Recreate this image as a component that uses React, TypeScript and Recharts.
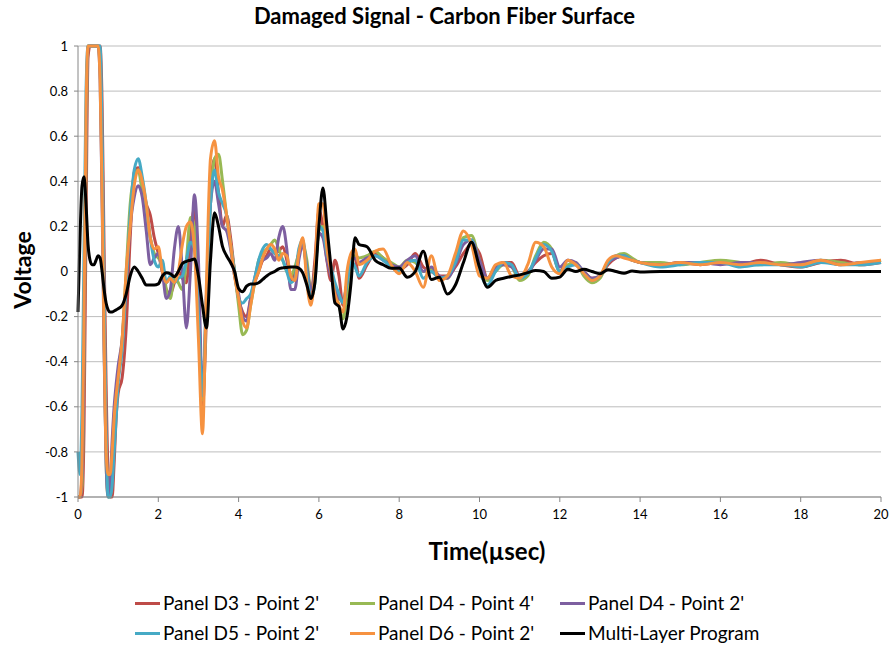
import { LineChart, Line, XAxis, YAxis, CartesianGrid } from 'recharts'

// sample times (µs): fine around the first burst, coarser in the tail
const time = [
  0, 0.05, 0.1, 0.15, 0.2, 0.25, 0.3, 0.35, 0.4, 0.45, 0.5, 0.55, 0.6, 0.65, 0.7, 0.75, 0.8, 0.85, 0.9, 0.95, 1.0,
  1.1, 1.2, 1.3, 1.4, 1.5, 1.6, 1.7, 1.8, 1.9, 2.0,
  2.1, 2.2, 2.3, 2.4, 2.5, 2.6, 2.7, 2.8, 2.9, 3.0,
  3.1, 3.2, 3.3, 3.4, 3.5, 3.6, 3.7, 3.8, 3.9, 4.0,
  4.1, 4.2, 4.3, 4.4, 4.5, 4.6, 4.7, 4.8, 4.9, 5.0,
  5.1, 5.2, 5.3, 5.4, 5.5, 5.6, 5.7, 5.8, 5.9, 6.0,
  6.1, 6.2, 6.3, 6.4, 6.5, 6.6, 6.7, 6.8, 6.9, 7.0,
  7.2, 7.4, 7.6, 7.8, 8.0, 8.2, 8.4, 8.6, 8.8, 9.0, 9.2, 9.4, 9.6, 9.8, 10.0, 10.2, 10.4, 10.6, 10.8, 11.0,
  11.2, 11.4, 11.6, 11.8, 12.0, 12.2, 12.4, 12.6, 12.8, 13.0, 13.2, 13.4, 13.6, 13.8, 14.0,
  14.5, 15, 15.5, 16, 16.5, 17, 17.5, 18, 18.5, 19, 19.5, 20,
]

const panelD3p2 = [
  -1, -1, -1, -0.7, 0.2, 0.95, 1, 1, 1, 1, 1, 1, 0.75, 0.1, -0.5, -0.9, -1, -1, -0.85, -0.65, -0.54,
  -0.47, -0.25, 0.15, 0.44, 0.46, 0.38, 0.3, 0.25, 0.15, 0.08,
  0.0, -0.08, -0.1, -0.05, 0.0, -0.03, -0.05, 0.15, 0.28, -0.1,
  -0.6, -0.2, 0.35, 0.5, 0.35, 0.2, 0.25, 0.15, 0.0, -0.12,
  -0.18, -0.2, -0.12, -0.05, 0.0, 0.05, 0.07, 0.1, 0.08, 0.09,
  0.11, 0.05, -0.04, 0.0, 0.08, 0.12, 0.0, -0.1, 0.05, 0.27,
  0.2, 0.05, -0.04, 0.05, -0.02, -0.15, -0.12, 0.05, 0.06, -0.03,
  0.03, 0.08, 0.06, 0.02, 0.01, 0.03, 0.08, 0.02, 0.0, -0.02, -0.02, 0.02, 0.08, 0.12, 0.08, -0.03, 0.02, 0.04, 0.04, -0.02,
  0.0, 0.04, 0.07, 0.08, 0.0, 0.05, 0.03, 0.0, -0.03, -0.02, 0.03, 0.06, 0.07, 0.05, 0.04,
  0.03, 0.04, 0.03, 0.04, 0.03, 0.05, 0.03, 0.02, 0.04, 0.05, 0.03, 0.04,
]

const panelD4p4 = [
  -1, -1, -0.95, -0.4, 0.5, 1, 1, 1, 1, 1, 1, 0.9, 0.4, -0.3, -0.85, -1, -1, -0.9, -0.7, -0.55, -0.45,
  -0.3, 0.0, 0.3, 0.42, 0.45, 0.35, 0.25, 0.15, 0.08, 0.06,
  0.04, -0.08, -0.12, -0.02, -0.05, -0.08, 0.05, 0.24, 0.2, -0.15,
  -0.57, -0.15, 0.3, 0.5, 0.52, 0.4, 0.25, 0.12, 0.0, -0.15,
  -0.28, -0.26, -0.15, -0.05, 0.05, 0.08, 0.1, 0.12, 0.14, 0.1,
  0.05, 0.0, -0.02, 0.02, 0.08, 0.12, 0.05, -0.08, 0.0, 0.18,
  0.2, 0.08, 0.0, -0.08, -0.15, -0.21, -0.1, 0.05, 0.07, 0.06,
  0.07, 0.09, 0.06, 0.04, 0.02, 0.05, 0.04, 0.0, 0.01, -0.03, -0.03, 0.05, 0.15, 0.16, 0.05, -0.04, 0.0, 0.03, 0.02, -0.04,
  -0.02, 0.07, 0.13, 0.1, 0.0, 0.03, 0.04, -0.02, -0.05, -0.03, 0.04, 0.07, 0.08, 0.06, 0.04,
  0.04, 0.03, 0.04, 0.05, 0.04, 0.03, 0.04, 0.03, 0.05, 0.04, 0.03, 0.05,
]

const panelD4p2 = [
  -1, -1, -0.9, -0.3, 0.6, 1, 1, 1, 1, 1, 1, 0.85, 0.3, -0.35, -0.85, -1, -0.95, -0.75, -0.6, -0.5, -0.42,
  -0.3, -0.05, 0.2, 0.33, 0.38, 0.33, 0.18, 0.03, 0.06, 0.08,
  0.0, -0.12, -0.08, 0.1, 0.2, 0.0, -0.25, 0.0, 0.34, 0.05,
  -0.55, -0.1, 0.3, 0.4, 0.3, 0.2, 0.18, 0.1, -0.02, -0.1,
  -0.2, -0.22, -0.12, -0.03, 0.03, 0.05, 0.06, 0.08, 0.05, 0.15,
  0.2, 0.1, -0.08, -0.08, 0.05, 0.12, 0.02, -0.08, 0.0, 0.17,
  0.15, 0.05, -0.02, -0.08, -0.12, -0.13, -0.05, 0.05, 0.06, 0.04,
  0.06, 0.07, 0.05, 0.03, 0.02, 0.05, 0.07, 0.0, 0.02, -0.02, -0.03, 0.03, 0.12, 0.14, 0.05, -0.03, 0.02, 0.03, 0.02, -0.02,
  -0.01, 0.05, 0.1, 0.1, 0.02, 0.05, 0.04, 0.0, -0.03, -0.02, 0.04, 0.06, 0.07, 0.05, 0.04,
  0.03, 0.04, 0.04, 0.03, 0.04, 0.04, 0.03, 0.04, 0.05, 0.03, 0.04, 0.04,
]

const panelD5p2 = [
  -0.8, -0.9, -0.6, 0.1, 0.8, 1, 1, 1, 1, 1, 1, 1, 0.6, -0.1, -0.7, -1, -1, -0.95, -0.8, -0.65, -0.5,
  -0.35, -0.05, 0.25, 0.45, 0.5, 0.42, 0.3, 0.15, 0.05, 0.02,
  0.05, -0.05, -0.02, -0.05, -0.03, -0.02, 0.05, 0.13, 0.1, -0.2,
  -0.55, -0.1, 0.3, 0.45, 0.35, 0.3, 0.25, 0.12, 0.0, -0.12,
  -0.14, -0.12, -0.1, -0.03, 0.05, 0.1, 0.12, 0.1, 0.08, 0.07,
  0.05, 0.0, -0.05, -0.03, 0.1, 0.14, 0.0, -0.12, -0.05, 0.2,
  0.18, 0.08, 0.02, -0.05, -0.1, -0.14, -0.05, 0.05, 0.02, -0.02,
  0.04, 0.07, 0.05, 0.02, 0.0, 0.04, 0.05, -0.03, 0.0, -0.03, -0.02, 0.04, 0.14, 0.14, 0.0, -0.06, 0.0, 0.04, 0.03, -0.03,
  -0.01, 0.06, 0.12, 0.09, 0.0, 0.02, 0.03, -0.01, -0.04, -0.02, 0.04, 0.07, 0.07, 0.05, 0.04,
  0.02, 0.03, 0.04, 0.04, 0.02, 0.03, 0.03, 0.02, 0.04, 0.03, 0.03, 0.04,
]

const panelD6p2 = [
  -1, -1, -0.85, -0.2, 0.7, 1, 1, 1, 1, 1, 1, 0.85, 0.35, -0.3, -0.8, -0.9, -0.9, -0.8, -0.65, -0.55, -0.47,
  -0.3, 0.0, 0.2, 0.38, 0.45, 0.4, 0.3, 0.15, 0.1, 0.11,
  0.0, -0.05, -0.03, -0.05, 0.0, 0.12, 0.2, 0.22, 0.1, -0.3,
  -0.72, -0.05, 0.5, 0.58, 0.42, 0.36, 0.25, 0.12, -0.02, -0.12,
  -0.22, -0.25, -0.15, -0.05, 0.0, 0.06, 0.1, 0.12, 0.1, 0.05,
  0.08, 0.07, -0.02, -0.04, 0.08, 0.15, -0.05, -0.15, 0.0, 0.3,
  0.3, 0.1, 0.0, -0.1, -0.15, -0.18, 0.0, 0.08, 0.1, 0.03,
  0.05, 0.09, 0.1, 0.03, -0.01, 0.04, 0.0, -0.07, 0.07, -0.04, -0.02, 0.08, 0.18, 0.12, -0.02, -0.03, 0.03, 0.04, -0.02, -0.03,
  0.03, 0.13, 0.11, 0.02, -0.01, 0.05, 0.03, -0.01, -0.04, -0.02, 0.05, 0.07, 0.06, 0.05, 0.04,
  0.03, 0.04, 0.03, 0.04, 0.03, 0.04, 0.03, 0.03, 0.05, 0.03, 0.04, 0.05,
]

const multiLayer = [
  -0.18, 0.15, 0.38, 0.42, 0.3, 0.12, 0.05, 0.03, 0.03, 0.05, 0.07, 0.06, 0.0, -0.08, -0.14, -0.17, -0.18, -0.18, -0.175, -0.17, -0.165,
  -0.15, -0.1, -0.02, 0.02, 0.0, -0.03, -0.06, -0.06, -0.06, -0.055,
  -0.02, -0.005, -0.01, -0.023, 0.0, 0.035, 0.045, 0.05, 0.055, -0.02,
  -0.15, -0.25, 0.05, 0.26, 0.2, 0.11, 0.07, 0.04, 0.0, -0.075,
  -0.09, -0.065, -0.055, -0.055, -0.05, -0.035, -0.02, -0.008, 0.0, 0.012,
  0.016, 0.018, 0.02, 0.02, 0.015, -0.007, -0.06, -0.12, -0.05, 0.2,
  0.37, 0.2, 0.02, -0.14, -0.155, -0.255, -0.2, -0.05, 0.15, 0.12,
  0.11, 0.05, 0.03, 0.014, 0.015, -0.025, 0.0, 0.09, -0.035, -0.025, -0.1, -0.06, 0.04, 0.13, 0.02, -0.07, -0.04, -0.03, -0.022, -0.015,
  -0.005, 0.004, 0.0, -0.03, -0.025, 0.01, 0.0, 0.01, 0.0, -0.01, 0.008, 0.0, -0.008, 0.002, -0.002,
  0, 0, 0, 0, 0, 0, 0, 0, 0, 0, 0, 0,
]

const xTicks = [0, 2, 4, 6, 8, 10, 12, 14, 16, 18, 20]
const yTicks = [-1, -0.8, -0.6, -0.4, -0.2, 0, 0.2, 0.4, 0.6, 0.8, 1]

const series = [
  { key: 'd3p2', name: "Panel D3 - Point 2'", values: panelD3p2, color: '#BE4B48' },
  { key: 'd4p4', name: "Panel D4 - Point 4'", values: panelD4p4, color: '#98B954' },
  { key: 'd4p2', name: "Panel D4 - Point 2'", values: panelD4p2, color: '#7D5FA0' },
  { key: 'd5p2', name: "Panel D5 - Point 2'", values: panelD5p2, color: '#46AAC5' },
  { key: 'd6p2', name: "Panel D6 - Point 2'", values: panelD6p2, color: '#F69240' },
  { key: 'ml', name: 'Multi-Layer Program', values: multiLayer, color: '#000000' },
]

const data = time.map((t, i) => {
  const row: Record<string, number> = { t }
  series.forEach(s => { row[s.key] = s.values[i] })
  return row
})

const font = 'Lato, "Open Sans", sans-serif'
const legendCols = [135, 350, 560]

function LegendItem({ name, color, left }: { name: string; color: string; left: number }) {
  return (
    <div style={{ position: 'absolute', left, top: 0, display: 'flex', alignItems: 'center', whiteSpace: 'nowrap' }}>
      <span style={{ display: 'inline-block', width: 25, height: 3, background: color, marginRight: 3 }} />
      <span>{name}</span>
    </div>
  )
}

export default function App() {
  return (
    <div style={{ position: 'absolute', left: 0, top: 0, width: 889, height: 650, background: '#fff', fontFamily: font, color: '#000' }}>
      <div style={{ position: 'absolute', top: 2, left: 0, width: 889, textAlign: 'center', fontSize: 22, fontWeight: 700 }}>
        Damaged Signal - Carbon Fiber Surface
      </div>
      <div style={{ position: 'absolute', left: 22, top: 270, transform: 'translate(-50%, -50%) rotate(-90deg)', fontSize: 23, fontWeight: 700 }}>
        Voltage
      </div>
      <div style={{ position: 'absolute', left: 487, top: 550, transform: 'translate(-50%, -50%)', fontSize: 24, fontWeight: 700 }}>
        Time(µsec)
      </div>
      <LineChart width={889} height={650} data={data} margin={{ top: 46, right: 8, bottom: 123, left: 0 }}>
        <CartesianGrid horizontal vertical={false} stroke="#BDBDBD" />
        <XAxis
          dataKey="t"
          type="number"
          domain={[0, 20]}
          ticks={xTicks}
          interval={0}
          height={30}
          stroke="#868686"
          tickSize={5}
          tickMargin={8}
          tick={{ fill: '#000', fontSize: 13, fontFamily: font }}
        />
        <YAxis
          type="number"
          domain={[-1, 1]}
          ticks={yTicks}
          interval={0}
          width={78}
          stroke="#868686"
          tickSize={4}
          tickMargin={6}
          tickFormatter={(v: number) => String(Number(v.toFixed(1)))}
          tick={{ fill: '#000', fontSize: 13, fontFamily: font }}
        />
        {series.map(s => (
          <Line
            key={s.key}
            dataKey={s.key}
            name={s.name}
            type="monotone"
            stroke={s.color}
            strokeWidth={3}
            dot={false}
            isAnimationActive={false}
          />
        ))}
      </LineChart>
      {[0, 1].map(r => (
        <div key={r} style={{ position: 'absolute', left: 0, top: 589 + r * 30, width: 889, height: 28, fontSize: 19, lineHeight: '28px' }}>
          {series.slice(r * 3, r * 3 + 3).map((s, c) => (
            <LegendItem key={s.key} name={s.name} color={s.color} left={legendCols[c]} />
          ))}
        </div>
      ))}
    </div>
  )
}
